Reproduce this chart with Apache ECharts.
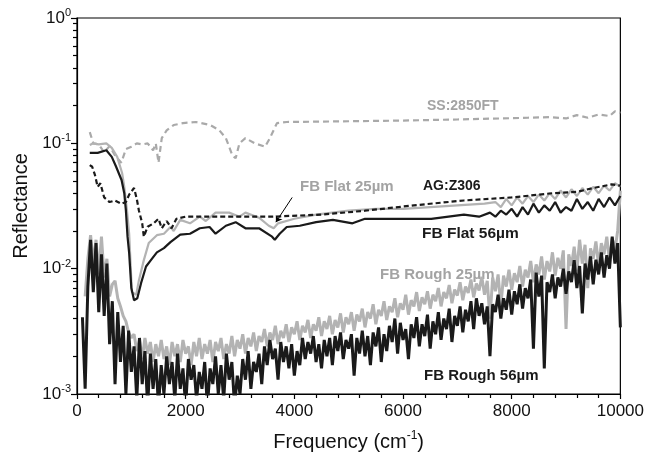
<!DOCTYPE html>
<html lang="en" style="height: 100%">
<head>
<meta charset="utf-8">
<title>Reflectance spectra</title>
</head>
<body style="height: 100%; margin: 0; background: #fff">
<div id="container" style="width: 647px; height: 460px"></div>
<script type="text/javascript" src="https://cdn.jsdelivr.net/npm/echarts/dist/echarts.min.js"></script>
<script type="text/javascript">

// smooth spectra, [frequency cm-1, reflectance]
var ss2850 = [[235,0.123],[300,0.1],[400,0.098],[500,0.085],[600,0.095],[700,0.08],[815,0.07],[900,0.09],[1000,0.094],[1100,0.1],[1200,0.098],[1300,0.1],[1400,0.088],[1450,0.1],[1500,0.07],[1560,0.11],[1650,0.127],[1780,0.14],[1950,0.145],[2190,0.148],[2450,0.14],[2620,0.127],[2740,0.11],[2860,0.08],[2920,0.076],[2990,0.1],[3100,0.11],[3270,0.1],[3460,0.094],[3550,0.11],[3680,0.145],[3860,0.148],[5000,0.15],[6000,0.152],[7000,0.155],[7800,0.158],[8300,0.16],[8700,0.162],[9000,0.158],[9200,0.168],[9400,0.16],[9600,0.17],[9800,0.165],[9900,0.18],[10000,0.175]];

var agZ306 = [[235,0.067],[280,0.065],[330,0.056],[380,0.045],[430,0.048],[500,0.037],[600,0.034],[700,0.035],[815,0.033],[900,0.034],[960,0.039],[1050,0.044],[1100,0.036],[1140,0.029],[1200,0.023],[1230,0.018],[1300,0.0216],[1410,0.023],[1500,0.025],[1560,0.021],[1650,0.024],[1740,0.021],[1830,0.025],[2000,0.026],[2500,0.026],[3000,0.026],[3590,0.026],[4500,0.027],[5300,0.029],[6200,0.032],[7120,0.035],[8000,0.037],[8750,0.04],[9200,0.041],[9500,0.044],[9840,0.047],[10000,0.046]];

var flat25 = [[235,0.097],[300,0.1],[400,0.098],[540,0.1],[640,0.092],[740,0.078],[830,0.058],[870,0.045],[920,0.029],[960,0.019],[1010,0.0065],[1090,0.0062],[1140,0.0081],[1230,0.0117],[1320,0.016],[1470,0.0185],[1600,0.019],[1720,0.0215],[1780,0.02],[1900,0.0245],[2080,0.023],[2260,0.026],[2370,0.024],[2550,0.028],[2800,0.028],[2990,0.026],[3100,0.028],[3350,0.0255],[3530,0.022],[3620,0.021],[3700,0.023],[4000,0.025],[4400,0.027],[5000,0.029],[5500,0.03],[6000,0.03],[6500,0.031],[7000,0.032],[7500,0.033],[7700,0.034],[7800,0.031],[7900,0.036],[8000,0.032],[8100,0.037],[8200,0.033],[8300,0.038],[8400,0.034],[8500,0.039],[8600,0.035],[8700,0.04],[8800,0.036],[8900,0.042],[9000,0.037],[9100,0.043],[9200,0.038],[9300,0.044],[9400,0.039],[9500,0.045],[9600,0.04],[9700,0.046],[9800,0.042],[9900,0.048],[10000,0.045]];

var flat56 = [[235,0.084],[380,0.084],[540,0.088],[640,0.078],[720,0.065],[820,0.051],[870,0.04],[900,0.029],[930,0.018],[960,0.0133],[1000,0.007],[1050,0.0056],[1110,0.0058],[1180,0.0077],[1270,0.0104],[1360,0.0117],[1470,0.0135],[1600,0.0146],[1720,0.0163],[1900,0.0187],[2080,0.019],[2260,0.021],[2440,0.0215],[2550,0.019],[2740,0.022],[2920,0.0235],[3100,0.021],[3350,0.021],[3590,0.018],[3640,0.017],[3730,0.019],[3860,0.0215],[4100,0.022],[4400,0.0235],[4710,0.0245],[5070,0.023],[5300,0.025],[5900,0.025],[6520,0.025],[7120,0.027],[7400,0.026],[7600,0.028],[7700,0.026],[7800,0.029],[7900,0.027],[8000,0.03],[8100,0.026],[8200,0.031],[8300,0.027],[8400,0.033],[8500,0.028],[8600,0.032],[8700,0.029],[8800,0.034],[8900,0.028],[9000,0.031],[9100,0.029],[9200,0.036],[9300,0.03],[9400,0.034],[9500,0.029],[9600,0.036],[9700,0.031],[9800,0.037],[9900,0.032],[10000,0.038]];

// noisy spectra, sampled every 50 cm-1
var rough56Start = 100;
var rough56 = [0.0041,0.0011,0.0072,0.017,0.0065,0.016,0.0045,0.013,0.0042,0.011,
  0.0025,0.0055,0.0012,0.0045,0.0018,0.0035,0.0010,0.0032,0.0015,0.0024,
  0.0009,0.0028,0.0012,0.0022,0.0008,0.0021,0.0011,0.0019,0.0008,0.0017,
  0.0010,0.0020,0.0012,0.0018,0.0009,0.0021,0.0011,0.0016,0.0008,0.0019,
  0.0013,0.0017,0.0009,0.0015,0.0011,0.0018,0.0008,0.0016,0.0012,0.0020,
  0.0010,0.0017,0.0009,0.0021,0.0013,0.0018,0.0008,0.0014,0.0010,0.0019,
  0.0013,0.0022,0.0011,0.0018,0.0015,0.0021,0.0012,0.0024,0.0017,0.0027,
  0.0019,0.0023,0.0013,0.0026,0.0018,0.0024,0.0016,0.0025,0.0014,0.0022,
  0.0017,0.0028,0.0019,0.0026,0.0021,0.0029,0.0018,0.0025,0.0016,0.0027,
  0.0020,0.0028,0.0017,0.0029,0.0022,0.0031,0.0019,0.0027,0.0023,0.0030,
  0.0014,0.0028,0.0021,0.0032,0.0020,0.0029,0.0017,0.0031,0.0024,0.0034,
  0.0018,0.0030,0.0022,0.0035,0.0026,0.0040,0.0021,0.0037,0.0027,0.0033,
  0.0019,0.0036,0.0028,0.0041,0.0024,0.0036,0.0029,0.0043,0.0023,0.0038,
  0.0030,0.0045,0.0027,0.0040,0.0033,0.0048,0.0026,0.0042,0.0035,0.0050,
  0.0031,0.0047,0.0038,0.0055,0.0033,0.0058,0.0042,0.0053,0.0036,0.0050,
  0.0020,0.0052,0.0045,0.0062,0.0040,0.0058,0.0047,0.0068,0.0043,0.0066,
  0.0052,0.0075,0.0048,0.0070,0.0058,0.0082,0.0023,0.0093,0.0060,0.0088,
  0.0016,0.0078,0.0065,0.0090,0.0058,0.0085,0.0072,0.0100,0.0063,0.0095,
  0.0078,0.0117,0.0070,0.0105,0.0044,0.0110,0.0082,0.0125,0.0075,0.0118,
  0.0090,0.0135,0.0085,0.0128,0.0100,0.0180,0.0110,0.0160,0.0034];

var rough25Start = 150;
var rough25 = [0.0060,0.0120,0.0185,0.0110,0.0170,0.0090,0.0180,0.0085,0.0120,
  0.0060,0.0075,0.0080,0.0058,0.0050,0.0042,0.0038,0.0031,0.0028,0.0030,
  0.0022,0.0027,0.0019,0.0028,0.0021,0.0026,0.0018,0.0025,0.0020,0.0027,
  0.0019,0.0024,0.0017,0.0026,0.0020,0.0025,0.0018,0.0027,0.0021,0.0024,
  0.0017,0.0026,0.0020,0.0028,0.0019,0.0025,0.0021,0.0027,0.0018,0.0026,
  0.0022,0.0028,0.0019,0.0025,0.0021,0.0029,0.0020,0.0027,0.0023,0.0030,
  0.0021,0.0028,0.0024,0.0031,0.0022,0.0029,0.0026,0.0033,0.0024,0.0031,
  0.0027,0.0035,0.0025,0.0032,0.0028,0.0036,0.0026,0.0034,0.0030,0.0038,
  0.0027,0.0035,0.0031,0.0039,0.0028,0.0036,0.0032,0.0041,0.0029,0.0038,
  0.0033,0.0042,0.0030,0.0039,0.0034,0.0044,0.0031,0.0041,0.0036,0.0045,
  0.0032,0.0043,0.0038,0.0048,0.0034,0.0045,0.0040,0.0052,0.0036,0.0047,
  0.0042,0.0055,0.0039,0.0050,0.0045,0.0058,0.0041,0.0053,0.0047,0.0062,
  0.0043,0.0056,0.0050,0.0065,0.0046,0.0059,0.0052,0.0066,0.0048,0.0062,
  0.0055,0.0070,0.0050,0.0065,0.0058,0.0074,0.0053,0.0068,0.0061,0.0078,
  0.0056,0.0072,0.0064,0.0082,0.0059,0.0076,0.0067,0.0086,0.0062,0.0080,
  0.0040,0.0085,0.0066,0.0090,0.0050,0.0088,0.0072,0.0098,0.0068,0.0092,
  0.0078,0.0105,0.0072,0.0098,0.0085,0.0115,0.0078,0.0108,0.0090,0.0125,
  0.0082,0.0115,0.0095,0.0135,0.0088,0.0122,0.0100,0.0140,0.0033,0.0130,
  0.0105,0.0150,0.0095,0.0170,0.0110,0.0155,0.0070,0.0145,0.0120,0.0165,
  0.0105,0.0160,0.0130,0.0180,0.0115,0.0175,0.0140,0.0200,0.0420];

function sampled(start, vals) {
  return vals.map(function (v, i) { return [start + 50 * i, v]; });
}

var FONT = '"Liberation Sans", Arial, Helvetica, sans-serif';
var GRAY = '#b3b3b3';
var GRAYTXT = '#a3a3a3';
var BLACK = '#1a1a1a';

var dom = document.getElementById('container');
var myChart = echarts.init(dom);

function label(text, x, y, color, size) {
  return {
    type: 'text', left: x, top: y,
    style: { text: text, fill: color, font: 'bold ' + size + 'px ' + FONT }
  };
}

var option = {
  animation: false,
  backgroundColor: '#fff',
  grid: { left: 77, right: 18, top: 18, bottom: 66, show: true, borderColor: '#000', borderWidth: 1.2 },
  xAxis: {
    type: 'value', min: 0, max: 10000, interval: 2000,
    name: 'Frequency (cm{sup|-1})', nameLocation: 'middle', nameGap: 36,
    nameTextStyle: {
      fontFamily: FONT, fontSize: 20, color: '#111',
      rich: { sup: { fontSize: 12, fontFamily: FONT, color: '#111', padding: [0, 0, 12, 0] } }
    },
    axisLine: { show: true, lineStyle: { color: '#000', width: 1.2 } },
    axisTick: { show: true, inside: false, length: 5, lineStyle: { color: '#000', width: 1.2 } },
    minorTick: { show: true, splitNumber: 5, length: 4, lineStyle: { color: '#000', width: 1.2 } },
    splitLine: { show: false },
    axisLabel: { fontFamily: FONT, fontSize: 17, color: '#111', margin: 9,
      formatter: function (v) { return String(v); } }
  },
  yAxis: {
    type: 'log', logBase: 10, min: 0.001, max: 1,
    name: 'Reflectance', nameLocation: 'middle', nameGap: 46,
    nameTextStyle: { fontFamily: FONT, fontSize: 20, color: '#111' },
    axisLine: { show: true, lineStyle: { color: '#000', width: 1.2 } },
    axisTick: { show: true, inside: false, length: 6, lineStyle: { color: '#000', width: 1.2 } },
    minorTick: { show: true, splitNumber: 9, length: 4, lineStyle: { color: '#000', width: 1.2 } },
    splitLine: { show: false },
    axisLabel: {
      fontFamily: FONT, fontSize: 17, color: '#111', margin: 6,
      formatter: function (v) {
        var e = Math.round(Math.log10(v));
        return '{b|10}{s|' + e + '}';
      },
      rich: {
        b: { fontFamily: FONT, fontSize: 17, color: '#111' },
        s: { fontFamily: FONT, fontSize: 11, color: '#111', padding: [0, 0, 10, 0] }
      }
    }
  },
  series: [
    { name: 'SS:2850FT', type: 'line', data: ss2850, showSymbol: false,
      lineStyle: { color: '#a9a9a9', width: 2.2, type: [6, 4] } },
    { name: 'FB Rough 25µm', type: 'line', data: sampled(rough25Start, rough25), showSymbol: false,
      lineStyle: { color: GRAY, width: 3 } },
    { name: 'FB Rough 56µm', type: 'line', data: sampled(rough56Start, rough56), showSymbol: false,
      lineStyle: { color: BLACK, width: 3 } },
    { name: 'FB Flat 25µm', type: 'line', data: flat25, showSymbol: false,
      lineStyle: { color: GRAY, width: 2.2 },
      markLine: {
        silent: true, symbol: ['none', 'arrow'], symbolSize: 6,
        lineStyle: { color: '#000', width: 1, type: 'solid' }, label: { show: false },
        data: [[{ coord: [3960, 0.037] }, { coord: [3660, 0.0235] }]]
      } },
    { name: 'FB Flat 56µm', type: 'line', data: flat56, showSymbol: false,
      lineStyle: { color: BLACK, width: 2.2 } },
    { name: 'AG:Z306', type: 'line', data: agZ306, showSymbol: false,
      lineStyle: { color: BLACK, width: 2.2, type: [5, 3] } }
  ],
  graphic: [
    label('SS:2850FT', 427, 99, GRAYTXT, 14),
    label('FB Flat 25µm', 300, 179, GRAYTXT, 15),
    label('AG:Z306', 423, 179, BLACK, 14),
    label('FB Flat 56µm', 422, 226, BLACK, 15.5),
    label('FB Rough 25µm', 380, 267, GRAYTXT, 15),
    label('FB Rough 56µm', 424, 368, BLACK, 15)
  ]
};

myChart.setOption(option);
window.addEventListener('resize', myChart.resize);
</script>
</body>
</html>
